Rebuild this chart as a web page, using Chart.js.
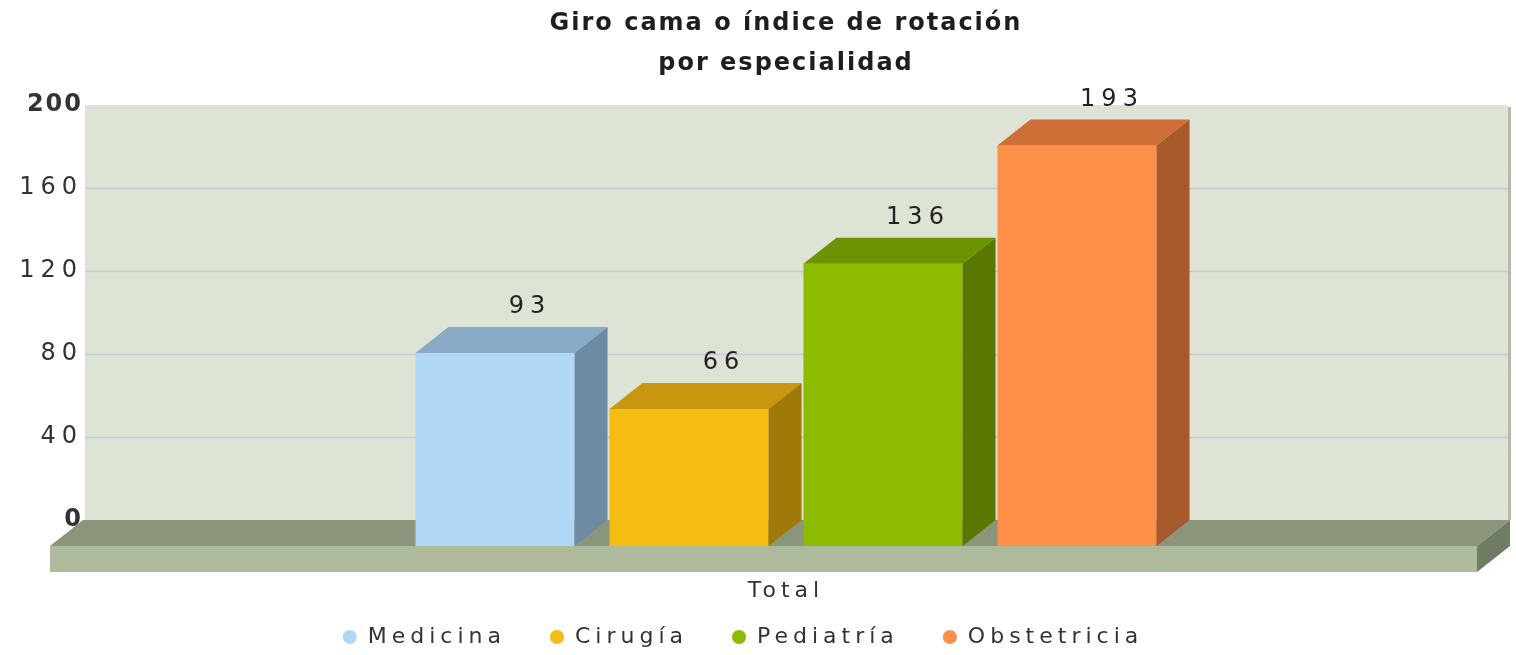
<!DOCTYPE html>
<html>
<head>
<meta charset="utf-8">
<script src="https://cdn.jsdelivr.net/npm/chart.js@4.4.1/dist/chart.umd.min.js"></script>
<style>
html, body { margin: 0; padding: 0; background: #ffffff; overflow: hidden; }
#wrap { width: 1516px; height: 655px; position: relative; }
</style>
</head>
<body>
<div id="wrap"><canvas id="c"></canvas></div>
<script>
// ---- data ----
const categories = ['Total'];
const seriesNames = ['Medicina', 'Cirugía', 'Pediatría', 'Obstetricia'];
const medicina = [93];
const cirugia = [66];
const pediatria = [136];
const obstetricia = [193];
const yMin = 0;
const yMax = 200;
const yStep = 40;
const titleLines = ['Giro cama o índice de rotación', 'por especialidad'];

// ---- styles ----
const FONT = '"DejaVu Sans", Verdana, sans-serif';
const frontColors = ['#b0d8f6', '#f5bc12', '#8cbb00', '#fe8f48'];
const topColors   = ['#8aabc6', '#c8960f', '#6e9300', '#cf6f37'];
const sideColors  = ['#6f8ba3', '#a07a09', '#5a7700', '#a65a2b'];
const DX = 33, DY = 26;          // 3D depth offset
const FLOOR_H = 26;              // floor thickness
const LEGEND_PAD = 44;

// letter spacing per font (wide Verdana-like look)
const canvas = document.getElementById('c');
const ctx2d = canvas.getContext('2d');
const spacingByFont = { 'b24': '2px', '24': '6px', '22': '5px' };
function applySpacing() {
  if (!('letterSpacing' in ctx2d)) return;
  const f = ctx2d.font;
  const m = /(\d+(?:\.\d+)?)px/.exec(f);
  let s = null;
  if (m) {
    const key = (/bold|[6-9]00/.test(f) ? 'b' : '') + Math.round(parseFloat(m[1]));
    s = spacingByFont[key] || spacingByFont[key.replace('b', '')];
  }
  ctx2d.letterSpacing = s || '0px';
}
const _fill = ctx2d.fillText;
ctx2d.fillText = function (...a) { applySpacing(); return _fill.apply(this, a); };
const _measure = ctx2d.measureText;
ctx2d.measureText = function (...a) { applySpacing(); return _measure.apply(this, a); };

function poly(ctx, pts, color) {
  ctx.beginPath();
  ctx.moveTo(pts[0][0], pts[0][1]);
  for (let i = 1; i < pts.length; i++) ctx.lineTo(pts[i][0], pts[i][1]);
  ctx.closePath();
  ctx.fillStyle = color;
  ctx.fill();
}

const threeD = {
  id: 'threeD',
  beforeDraw(chart) {
    const ctx = chart.ctx;
    const ca = chart.chartArea;
    const ys = chart.scales.y;
    ctx.save();
    // back wall
    const wl = ca.left - 1, wr = ca.right + 22;
    const wt = ys.getPixelForValue(yMax) - DY, wb = ca.bottom - DY;
    ctx.fillStyle = '#dde3d5';
    ctx.fillRect(wl, wt, wr - wl, wb - wt);
    ctx.fillStyle = '#b3bba9';
    ctx.fillRect(wr, wt + 2, 3, wb - wt - 2);
    // grid lines on the back wall
    ctx.strokeStyle = '#c8c9db';
    ctx.lineWidth = 1.5;
    ys.ticks.forEach(t => {
      if (t.value <= yMin || t.value >= yMax) return;
      const y = Math.round(ys.getPixelForValue(t.value) - DY) + 0.5;
      ctx.beginPath();
      ctx.moveTo(wl, y);
      ctx.lineTo(wr, y);
      ctx.stroke();
    });
    // floor
    const fl = ca.left - 36, fr = ca.right - 9, fb = ca.bottom;
    poly(ctx, [[fl, fb], [fr, fb], [fr + DX, fb - DY], [fl + DX, fb - DY]], '#8a957b');
    ctx.fillStyle = '#adba9b';
    ctx.fillRect(fl, fb, fr - fl, FLOOR_H);
    poly(ctx, [[fr, fb], [fr + DX, fb - DY], [fr + DX, fb - DY + FLOOR_H], [fr, fb + FLOOR_H]], '#6f7b63');
    ctx.restore();
  },
  afterDatasetsDraw(chart) {
    const ctx = chart.ctx;
    ctx.save();
    chart.data.datasets.forEach((ds, di) => {
      const meta = chart.getDatasetMeta(di);
      if (meta.hidden) return;
      meta.data.forEach((bar, i) => {
        const p = bar.getProps(['x', 'y', 'base', 'width'], true);
        const l = p.x - p.width / 2, r = p.x + p.width / 2;
        poly(ctx, [[l, p.y], [r, p.y], [r + DX, p.y - DY], [l + DX, p.y - DY]], topColors[di]);
        poly(ctx, [[r, p.y], [r + DX, p.y - DY], [r + DX, p.base - DY], [r, p.base]], sideColors[di]);
        // value label
        ctx.font = '24px ' + FONT;
        ctx.fillStyle = '#222222';
        ctx.textAlign = 'center';
        ctx.textBaseline = 'middle';
        ctx.fillText(String(ds.data[i]), p.x + DX + 2, p.y - DY - 20);
      });
    });
    ctx.restore();
  }
};

const seriesData = [medicina, cirugia, pediatria, obstetricia];
const datasets = seriesNames.map((name, i) => ({
  label: name,
  data: seriesData[i],
  backgroundColor: frontColors[i],
  borderWidth: 0,
  categoryPercentage: 776 / 1400,
  barPercentage: 0.82
}));

new Chart(canvas, {
  type: 'bar',
  data: { labels: categories, datasets },
  plugins: [threeD],
  options: {
    responsive: true,
    maintainAspectRatio: false,
    animation: false,
    layout: { padding: { left: 0, right: 30, top: 0, bottom: -3 } },
    plugins: {
      title: {
        display: true,
        fullSize: false,
        text: titleLines,
        color: '#1e1e1e',
        font: { family: FONT, size: 24, weight: 'bold', lineHeight: 40 / 24 },
        padding: { top: 4, bottom: 47 }
      },
      legend: {
        position: 'bottom',
        labels: {
          usePointStyle: true,
          pointStyle: 'circle',
          boxWidth: 14,
          boxHeight: 10,
          padding: LEGEND_PAD,
          color: '#333333',
          font: { family: FONT, size: 22 }
        }
      },
      tooltip: { enabled: false }
    },
    scales: {
      x: {
        grid: { display: false, drawTicks: false },
        border: { display: false },
        ticks: { color: '#333333', mirror: true, padding: -58, font: { family: FONT, size: 22 } },
        afterFit(scale) { scale.height = 80 - LEGEND_PAD; }
      },
      y: {
        min: yMin,
        max: yMax,
        grid: { display: false, drawTicks: false },
        border: { display: false },
        ticks: {
          stepSize: yStep,
          labelOffset: -DY,
          padding: 3,
          color: '#333333',
          font: (c) => ({
            family: FONT,
            size: 24,
            weight: (c.tick && (c.tick.value === yMin || c.tick.value === yMax)) ? 'bold' : 'normal'
          })
        },
        afterFit(scale) { scale.width = 86; }
      }
    }
  }
});
</script>
</body>
</html>
